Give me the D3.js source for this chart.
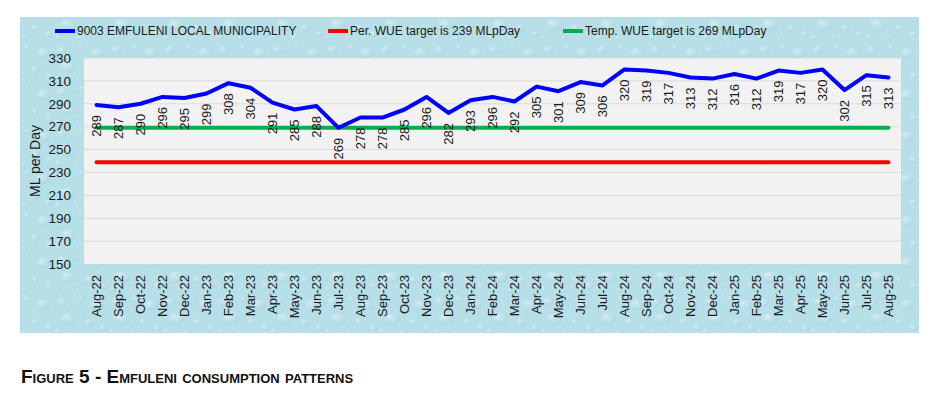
<!DOCTYPE html>
<html><head><meta charset="utf-8">
<script src="https://cdn.jsdelivr.net/npm/d3@7"></script>
<style>
body{margin:0;background:#fff;}
svg{display:block;font-family:"Liberation Sans",Arial,sans-serif;}
</style></head>
<body><svg id="chart" width="939" height="395"></svg>
<script>
const months = ["Aug-22","Sep-22","Oct-22","Nov-22","Dec-22","Jan-23","Feb-23","Mar-23","Apr-23","May-23","Jun-23","Jul-23","Aug-23","Sep-23","Oct-23","Nov-23","Dec-23","Jan-24","Feb-24","Mar-24","Apr-24","May-24","Jun-24","Jul-24","Aug-24","Sep-24","Oct-24","Nov-24","Dec-24","Jan-25","Feb-25","Mar-25","Apr-25","May-25","Jun-25","Jul-25","Aug-25"];
const emfuleni = [289,287,290,296,295,299,308,304,291,285,288,269,278,278,285,296,282,293,296,292,305,301,309,306,320,319,317,313,312,316,312,319,317,320,302,315,313];
const perTarget = 239;
const tempTarget = 269;
const yTicks = [150,170,190,210,230,250,270,290,310,330];
const seriesNames = ["9003 EMFULENI LOCAL MUNICIPALITY","Per. WUE target is 239 MLpDay","Temp. WUE target is 269 MLpDay"];
const seriesColors = ["#0000ff","#ff0000","#00b050"];

const svg = d3.select("#chart");
const defs = svg.append("defs");

// water-drop like background pattern
const rg = defs.append("radialGradient").attr("id","drop").attr("cx","35%").attr("cy","30%").attr("r","70%");
rg.append("stop").attr("offset","0%").attr("stop-color","#ffffff").attr("stop-opacity",0.45);
rg.append("stop").attr("offset","60%").attr("stop-color","#cfeaf0").attr("stop-opacity",0.15);
rg.append("stop").attr("offset","100%").attr("stop-color","#8cc4d2").attr("stop-opacity",0.35);
const pat = defs.append("pattern").attr("id","water").attr("patternUnits","userSpaceOnUse").attr("width",54).attr("height",42);
pat.append("rect").attr("width",54).attr("height",42).attr("fill","#b7dfe7");
const drops = [[8,8,5,4],[27,5,3,2.5],[43,11,7,5],[14,25,8,6],[35,28,4,3.5],[49,34,4,3],[4,37,3,2.5],[24,38,2.5,2]];
drops.forEach(d=>pat.append("ellipse").attr("cx",d[0]).attr("cy",d[1]).attr("rx",d[2]).attr("ry",d[3]).attr("fill","url(#drop)"));

const outer = {x:20,y:17,w:899,h:316};
svg.append("rect").attr("x",outer.x).attr("y",outer.y).attr("width",outer.w).attr("height",outer.h).attr("fill","url(#water)");

const plot = {l:84,r:901,t:58,b:264};
svg.append("rect").attr("x",plot.l).attr("y",plot.t).attr("width",plot.r-plot.l).attr("height",plot.b-plot.t).attr("fill","#f2f2f2");

const x = d3.scaleBand().domain(months).range([plot.l,plot.r]).paddingInner(0).paddingOuter(0.07);
const y = d3.scaleLinear().domain([150,330]).range([plot.b,plot.t]);
const cx = d => x(d)+x.bandwidth()/2;

// grid
svg.append("g").selectAll("line").data(yTicks.slice(1)).join("line")
  .attr("x1",plot.l).attr("x2",plot.r).attr("y1",d=>y(d)).attr("y2",d=>y(d))
  .attr("stroke","#d9d9d9").attr("stroke-width",1);

// y axis
const yAxis = svg.append("g").attr("transform",`translate(${plot.l},0)`)
  .call(d3.axisLeft(y).tickValues(yTicks).tickSize(0).tickPadding(13));
yAxis.select(".domain").remove();
yAxis.selectAll("text").attr("font-size",13.5).attr("fill","#1a1a1a").attr("font-family","Liberation Sans, Arial, sans-serif");

// x axis
const xAxis = svg.append("g").attr("transform",`translate(0,${plot.b})`)
  .call(d3.axisBottom(x).tickSize(0).tickPadding(0));
xAxis.select(".domain").remove();
xAxis.selectAll("text").attr("font-size",13).attr("fill","#1a1a1a").attr("font-family","Liberation Sans, Arial, sans-serif")
  .attr("text-anchor","end").attr("dy","0.35em")
  .attr("transform","translate(0,11) rotate(-90)").attr("x",0).attr("y",0);

// y title
svg.append("text").attr("transform",`translate(40,${(plot.t+plot.b)/2}) rotate(-90)`)
  .attr("text-anchor","middle").attr("font-size",14).attr("fill","#1a1a1a").text("ML per Day");

// target lines
const lineGen = d3.line().x(d=>cx(d.m)).y(d=>y(d.v));
svg.append("path").datum(months.map(m=>({m,v:perTarget}))).attr("d",lineGen)
  .attr("fill","none").attr("stroke",seriesColors[1]).attr("stroke-width",4).attr("stroke-linecap","round");
svg.append("path").datum(months.map(m=>({m,v:tempTarget}))).attr("d",lineGen)
  .attr("fill","none").attr("stroke",seriesColors[2]).attr("stroke-width",4).attr("stroke-linecap","round");
svg.append("path").datum(months.map((m,i)=>({m,v:emfuleni[i]}))).attr("d",lineGen)
  .attr("fill","none").attr("stroke",seriesColors[0]).attr("stroke-width",4).attr("stroke-linejoin","round").attr("stroke-linecap","round");

// data labels
svg.append("g").selectAll("text").data(months.map((m,i)=>({m,v:emfuleni[i]}))).join("text")
  .attr("transform",d=>`translate(${cx(d.m)},${y(d.v)+10}) rotate(-90)`)
  .attr("text-anchor","end").attr("dy","0.35em").attr("font-size",13).attr("fill","#1a1a1a")
  .text(d=>d.v);

// legend
const legX = [55,328,563];
const lg = svg.append("g");
seriesNames.forEach((n,i)=>{
  lg.append("line").attr("x1",legX[i]).attr("x2",legX[i]+20).attr("y1",31).attr("y2",31)
    .attr("stroke",seriesColors[i]).attr("stroke-width",4);
  lg.append("text").attr("x",legX[i]+22).attr("y",31).attr("dy","0.35em").attr("font-size",12).attr("fill","#1a1a1a").text(n);
});

// caption
svg.append("text").attr("x",21).attr("y",383).attr("font-size",19).attr("font-weight","bold")
  .attr("fill","#111").style("font-variant","small-caps").text("Figure 5 - Emfuleni consumption patterns");
</script></body></html>
